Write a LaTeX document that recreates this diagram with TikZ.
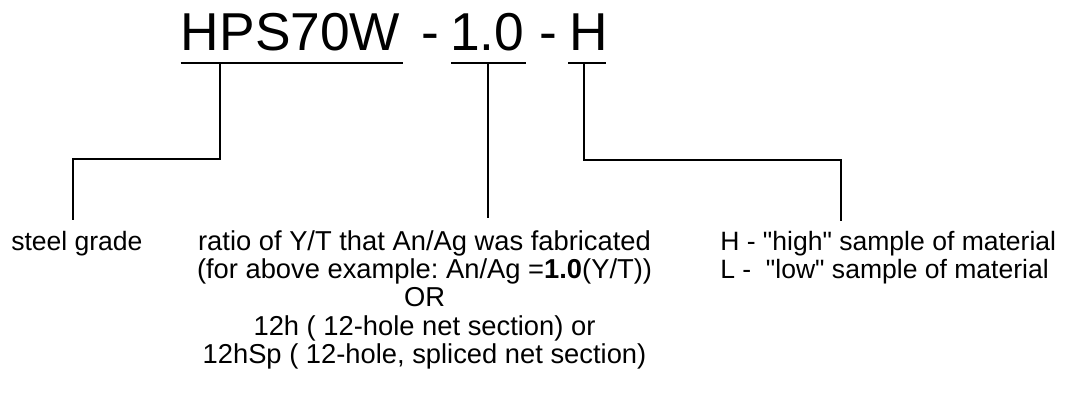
\documentclass[tikz,border=0pt]{standalone}
\usepackage{fontspec}
\setmainfont{Liberation Sans}
\newfontfamily\arialf{Liberation Sans}
\begin{document}
\begin{tikzpicture}[x=0.75pt,y=-0.75pt,
  titletext/.style={font=\arialf\fontsize{40}{46}\selectfont, inner sep=0pt, anchor=base west},
  dashtext/.style={font=\arialf\fontsize{40}{46}\selectfont, inner sep=0pt, anchor=base},
  labeltext/.style={font=\arialf\frenchspacing\fontsize{19.9}{21.6}\selectfont, inner sep=0pt},
  midtext/.style={font=\arialf\frenchspacing\fontsize{20.5}{21.3}\selectfont, inner sep=0pt},
  uline/.style={line width=1.4pt},
  conn/.style={line width=1.3pt}]
\useasboundingbox (0,0) rectangle (1069,394);
% title parts
\node[titletext] (hps) at (180.7,50) {HPS70W};
\node[dashtext] (d1) at (430,50) {-};
\node[titletext] (num) at (450,50) {1.0};
\node[dashtext] (d2) at (548,50) {-};
\node[titletext] (hl) at (569,50) {H};
% underlines
\coordinate (u1a) at (180.7,62.7); \coordinate (u1b) at (403,62.7);
\coordinate (u2a) at (451,62.7);   \coordinate (u2b) at (525.7,62.7);
\coordinate (u3a) at (568,62.7);   \coordinate (u3b) at (605.7,62.7);
\draw[uline] (u1a) -- (u1b);
\draw[uline] (u2a) -- (u2b);
\draw[uline] (u3a) -- (u3b);
% labels (anchor=base is the baseline of the last line)
\node[labeltext, anchor=base west] (grade) at (11,250) {steel grade};
\node[midtext, anchor=base, align=center] (ratio) at (424.5,363.6)
  {ratio of Y/T that An/Ag was fabricated\\
   (for above example: An/Ag =\textbf{1.0}(Y/T))\\
   OR\\
   12h ( 12-hole net section) or\\
   12hSp ( 12-hole, spliced net section)};
\node[labeltext, anchor=base west, align=left] (sample) at (720,278.8)
  {H - "high" sample of material\\
   L -\ \ "low" sample of material};
% connectors
\coordinate (t1) at (220,62.7);
\coordinate (c1) at (72.7,159.3);
\coordinate (e1) at (72.7,220);
\coordinate (t2) at (487.7,62.7);
\coordinate (e2) at (487.7,218);
\coordinate (t3) at (584,62.7);
\coordinate (c3) at (840.7,160);
\coordinate (e3) at (840.7,220.5);
\draw[conn] (t1) |- (c1) -- (e1);
\draw[conn] (t2) -- (e2);
\draw[conn] (t3) |- (c3) -- (e3);
\end{tikzpicture}
\end{document}
